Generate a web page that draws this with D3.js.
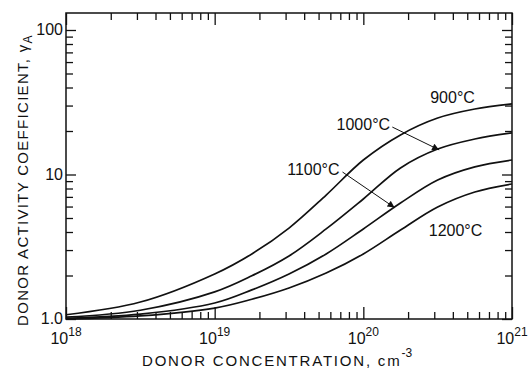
<!DOCTYPE html>
<html>
<head>
<meta charset="utf-8">
<script src="https://cdn.jsdelivr.net/npm/d3@7"></script>
<style>
  body { margin: 0; background: #fff; }
  text { font-family: "Liberation Sans", Arial, sans-serif; fill: #111; }
</style>
</head>
<body>
<svg id="chart" width="528" height="370"></svg>
<script>
// donor concentration (log10 cm^-3) where curves were read
const logN = [18, 18.5, 19, 19.25, 19.5, 19.75, 20, 20.25, 20.5, 20.75, 21];
// activity coefficient per temperature
const gamma900  = [1.07, 1.31, 2.05, 2.82, 4.26, 7.21, 12.6, 18.8, 24.6, 28.4, 30.8];
const gamma1000 = [1.03, 1.15, 1.54, 1.99, 2.73, 4.2, 6.77, 11.1, 15.0, 17.6, 19.4];
const gamma1100 = [1.01, 1.08, 1.29, 1.59, 2.05, 2.82, 4.2, 6.35, 9.16, 11.3, 12.6];
const gamma1200 = [1.0, 1.05, 1.19, 1.37, 1.64, 2.08, 2.82, 4.13, 5.96, 7.57, 8.6];

const xTickLabels = ["18", "19", "20", "21"];
const yTickLabels = ["1.0", "10", "100"];

// curve labels: [text, logN, gamma, anchor]
const curveLabels = [
  ["900°C", 20.45, 31.2, "start"],
  ["1000°C", 20.18, 20.3, "end"],
  ["1100°C", 19.84, 9.92, "end"],
  ["1200°C", 20.44, 3.75, "start"]
];
// arrows from label to curve: [logN0, gamma0, logN1, gamma1]
const arrows = [
  [20.195, 21.3, 20.51, 14.8],
  [19.86, 10.4, 20.21, 5.9]
];

const svg = d3.select("#chart");
const x = d3.scaleLog().domain([1e18, 1e21]).range([66, 512]);
const y = d3.scaleLog().domain([1, 100]).range([319, 30]);
const yTop = y.invert(13);

svg.append("defs").append("marker")
  .attr("id", "head").attr("viewBox", "0 0 10 10")
  .attr("refX", 10).attr("refY", 5)
  .attr("markerWidth", 9).attr("markerHeight", 7)
  .attr("markerUnits", "userSpaceOnUse")
  .attr("orient", "auto")
  .append("path").attr("d", "M0,0L10,5L0,10Z").attr("fill", "#111");

// frame
svg.append("rect")
  .attr("x", x(1e18)).attr("y", y(yTop))
  .attr("width", x(1e21) - x(1e18)).attr("height", y(1) - y(yTop))
  .attr("fill", "none").attr("stroke", "#111").attr("stroke-width", 1.5);

// tick values
const xMinor = [], yMinor = [];
for (let e = 18; e < 21; e++) for (let m = 2; m <= 9; m++) xMinor.push(m * Math.pow(10, e));
for (let e = 0; e < 2; e++) for (let m = 2; m <= 9; m++) yMinor.push(m * Math.pow(10, e));
const xMajor = xTickLabels.map(d => Math.pow(10, +d));
const yMajor = [1, 10, 100];

function ticks(axis, vals, size, tr) {
  const g = svg.append("g").attr("transform", tr)
    .call(axis.tickValues(vals).tickSize(size).tickFormat(""));
  g.select(".domain").remove();
  g.selectAll("line").attr("stroke", "#111").attr("stroke-width", 1.3);
}
ticks(d3.axisBottom(x), xMinor, -7, `translate(0,${y(1)})`);
ticks(d3.axisBottom(x), xMajor, -12, `translate(0,${y(1)})`);
ticks(d3.axisTop(x), xMinor, -7, `translate(0,${y(yTop)})`);
ticks(d3.axisTop(x), xMajor, -12, `translate(0,${y(yTop)})`);
ticks(d3.axisLeft(y), yMinor, -7, `translate(${x(1e18)},0)`);
ticks(d3.axisLeft(y), yMajor, -10, `translate(${x(1e18)},0)`);
ticks(d3.axisRight(y), yMinor, -7, `translate(${x(1e21)},0)`);
ticks(d3.axisRight(y), yMajor, -10, `translate(${x(1e21)},0)`);

// y tick labels
svg.selectAll(".ylab").data(yMajor).enter().append("text")
  .attr("x", x(1e18) - 3).attr("y", d => y(d) + 5)
  .attr("text-anchor", "end").attr("font-size", 16)
  .text((d, i) => yTickLabels[i]);

// x tick labels with superscripts
const xl = svg.selectAll(".xlab").data(xTickLabels).enter().append("text")
  .attr("x", d => x(Math.pow(10, +d))).attr("y", 344)
  .attr("text-anchor", "middle").attr("font-size", 16);
xl.append("tspan").text("10");
xl.append("tspan").attr("dy", -8).attr("font-size", 12).text(d => d);

// axis titles
const xt = svg.append("text").attr("x", 142).attr("y", 366)
  .attr("font-size", 15).attr("letter-spacing", 1.8);
xt.append("tspan").text("DONOR CONCENTRATION, cm");
xt.append("tspan").attr("dy", -9).attr("font-size", 12).attr("letter-spacing", 0).text("-3");

const yt = svg.append("text")
  .attr("transform", "translate(28,180) rotate(-90)")
  .attr("text-anchor", "middle").attr("font-size", 15).attr("letter-spacing", 1.3);
yt.append("tspan").text("DONOR ACTIVITY COEFFICIENT, γ");
yt.append("tspan").attr("dy", 4).attr("font-size", 12).text("A");

// curves
const line = d3.line()
  .x((d, i) => x(Math.pow(10, logN[i])))
  .y(d => y(d))
  .curve(d3.curveCatmullRom.alpha(0.5));

svg.selectAll(".curve").data([gamma900, gamma1000, gamma1100, gamma1200]).enter()
  .append("path")
  .attr("d", d => line(d))
  .attr("fill", "none").attr("stroke", "#111").attr("stroke-width", 1.7);

// labels and arrows
svg.selectAll(".clab").data(curveLabels).enter().append("text")
  .attr("x", d => x(Math.pow(10, d[1]))).attr("y", d => y(d[2]))
  .attr("text-anchor", d => d[3]).attr("font-size", 16)
  .text(d => d[0]);

svg.selectAll(".arrow").data(arrows).enter().append("line")
  .attr("x1", d => x(Math.pow(10, d[0]))).attr("y1", d => y(d[1]))
  .attr("x2", d => x(Math.pow(10, d[2]))).attr("y2", d => y(d[3]))
  .attr("stroke", "#111").attr("stroke-width", 1)
  .attr("marker-end", "url(#head)");
</script>
</body>
</html>
